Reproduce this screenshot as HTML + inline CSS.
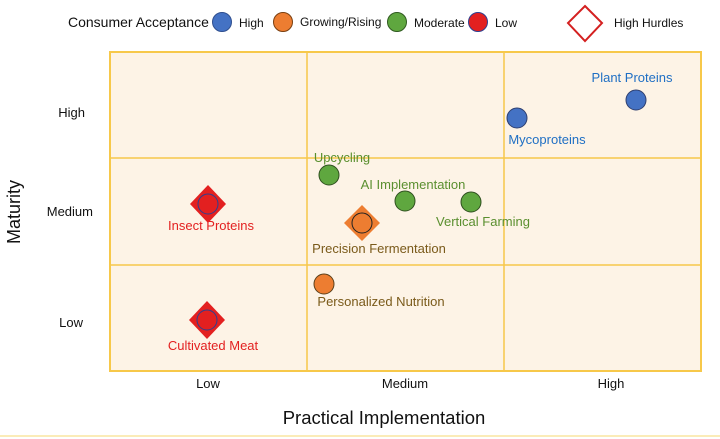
<!DOCTYPE html>
<html><head><style>
body{margin:0;background:#fff;}
svg{display:block;font-family:"Liberation Sans",Arial,sans-serif;}
</style></head><body>
<svg width="720" height="439" viewBox="0 0 720 439">
<rect x="0" y="0" width="720" height="439" fill="#fff"/>
<text x="68" y="27" font-size="14" fill="#111">Consumer Acceptance</text>
<circle cx="222" cy="22" r="9.5" fill="#4472c4" stroke="#2f4f8f" stroke-width="1"/>
<text x="239" y="27" font-size="12" fill="#111">High</text>
<circle cx="283" cy="22" r="9.5" fill="#ed7d31" stroke="#7a3f10" stroke-width="1"/>
<text x="300" y="26" font-size="12" fill="#111">Growing/Rising</text>
<circle cx="397" cy="22" r="9.5" fill="#5fa73f" stroke="#2f5a1f" stroke-width="1"/>
<text x="414" y="27" font-size="12" fill="#111">Moderate</text>
<circle cx="478" cy="22" r="9.5" fill="#e32020" stroke="#2f3f8f" stroke-width="1"/>
<text x="495" y="27" font-size="12" fill="#111">Low</text>
<polygon points="585,6 602,23 585,41 568,23" fill="#fff" stroke="#d42020" stroke-width="2"/>
<text x="614" y="27" font-size="12" fill="#111">High Hurdles</text>
<rect x="110" y="52" width="591" height="319" fill="#fdf3e6" stroke="#f7c84a" stroke-width="2"/>
<line x1="307" y1="52" x2="307" y2="371" stroke="#f7c84a" stroke-width="1.5"/>
<line x1="504" y1="52" x2="504" y2="371" stroke="#f7c84a" stroke-width="1.5"/>
<line x1="110" y1="158" x2="701" y2="158" stroke="#f7c84a" stroke-width="1.5"/>
<line x1="110" y1="265" x2="701" y2="265" stroke="#f7c84a" stroke-width="1.5"/>
<line x1="0" y1="436" x2="720" y2="436" stroke="#f7d870" stroke-width="1"/>
<text x="85" y="117" font-size="13" fill="#111" text-anchor="end">High</text>
<text x="93" y="216" font-size="13" fill="#111" text-anchor="end">Medium</text>
<text x="83" y="327" font-size="13" fill="#111" text-anchor="end">Low</text>
<text x="208" y="388" font-size="13" fill="#111" text-anchor="middle">Low</text>
<text x="405" y="388" font-size="13" fill="#111" text-anchor="middle">Medium</text>
<text x="611" y="388" font-size="13" fill="#111" text-anchor="middle">High</text>
<text x="384" y="424" font-size="18.5" fill="#111" text-anchor="middle">Practical Implementation</text>
<text transform="translate(20,212) rotate(-90)" font-size="18" fill="#111" text-anchor="middle">Maturity</text>
<circle cx="636" cy="100" r="10" fill="#4472c4" stroke="#2f3f6f"/>
<text x="632" y="82" font-size="13" fill="#1f6fc4" text-anchor="middle">Plant Proteins</text>
<circle cx="517" cy="118" r="10" fill="#4472c4" stroke="#2f3f6f"/>
<text x="547" y="144" font-size="13" fill="#1f6fc4" text-anchor="middle">Mycoproteins</text>
<circle cx="329" cy="175" r="10" fill="#5fa73f" stroke="#2f4f1f"/>
<text x="342" y="162" font-size="13" fill="#5a8f2f" text-anchor="middle">Upcycling</text>
<circle cx="405" cy="201" r="10" fill="#5fa73f" stroke="#2f4f1f"/>
<text x="413" y="189" font-size="13" fill="#5a8f2f" text-anchor="middle">AI Implementation</text>
<circle cx="471" cy="202" r="10" fill="#5fa73f" stroke="#2f4f1f"/>
<text x="483" y="226" font-size="13" fill="#5a8f2f" text-anchor="middle">Vertical Farming</text>
<polygon points="362,205 380,223 362,241 344,223" fill="#ed7d31"/>
<circle cx="362" cy="223" r="10" fill="#ed7d31" stroke="#222"/>
<text x="379" y="253" font-size="13" fill="#7a5a1a" text-anchor="middle">Precision Fermentation</text>
<polygon points="208,185 226,204 208,223 190,204" fill="#e32020"/>
<circle cx="208" cy="204" r="10" fill="#e32020" stroke="#2f3f8f"/>
<text x="211" y="230" font-size="13" fill="#e32020" text-anchor="middle">Insect Proteins</text>
<circle cx="324" cy="284" r="10" fill="#ed7d31" stroke="#5a3f1a"/>
<text x="381" y="306" font-size="13" fill="#7a5a1a" text-anchor="middle">Personalized Nutrition</text>
<polygon points="207,301 225,320 207,339 189,320" fill="#e32020"/>
<circle cx="207" cy="320" r="10" fill="#e32020" stroke="#2f3f8f"/>
<text x="213" y="350" font-size="13" fill="#e32020" text-anchor="middle">Cultivated Meat</text>
</svg>
</body></html>
